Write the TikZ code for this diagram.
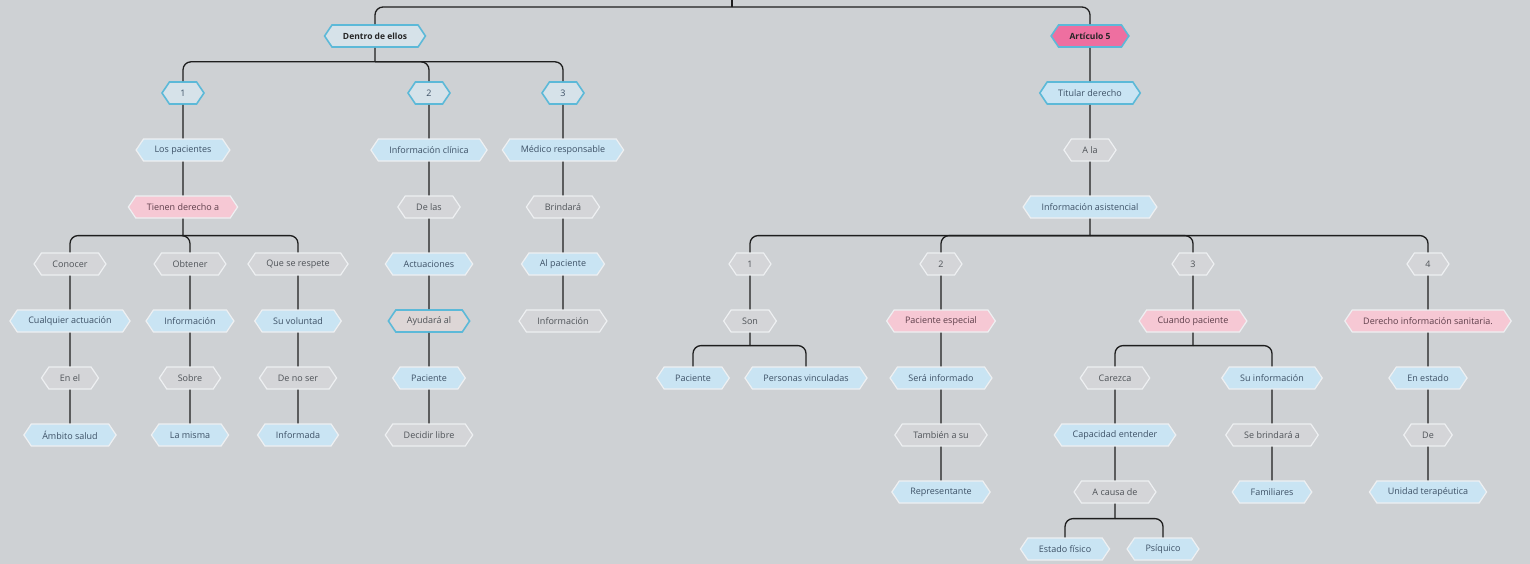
\documentclass[tikz,border=0pt]{standalone}
\usepackage{fontspec}
\setmainfont{Open Sans}
\usetikzlibrary{shapes.symbols}
\definecolor{bggray}{HTML}{CED1D4}
\definecolor{hexblue}{HTML}{C9E4F3}
\definecolor{hexpink}{HTML}{F6C8D4}
\definecolor{hexgray}{HTML}{D4D5D8}
\definecolor{hexsel}{HTML}{D6E2E9}
\definecolor{hexpeach}{HTML}{DDD6D6}
\definecolor{hotpink}{HTML}{EE6FA0}
\definecolor{selcyan}{HTML}{5CB9D8}
\definecolor{hexedge}{HTML}{EEF0F2}
\definecolor{txtblue}{HTML}{3D5166}
\definecolor{txtgray}{HTML}{4E5257}
\definecolor{txtpink}{HTML}{5E3E4A}
\definecolor{linkblack}{HTML}{1E1E1E}

\begin{document}
\begin{tikzpicture}[x=1pt, y=-1pt, node distance=57pt]
    \tikzstyle{hex} = [signal, signal to=west and east, signal pointer angle=112,
                       draw=hexedge, line width=1.2pt, minimum height=22pt,
                       inner xsep=11pt, inner ysep=5.5pt, font=\fontsize{9}{11}\selectfont]
    \tikzstyle{bluehex} = [hex, fill=hexblue, text=txtblue]
    \tikzstyle{pinkhex} = [hex, fill=hexpink, text=txtpink]
    \tikzstyle{grayhex} = [hex, fill=hexgray, text=txtgray]
    \tikzstyle{selhex} = [hex, draw=selcyan, line width=1.6pt, fill=hexsel, text=txtblue]
    \tikzstyle{headhex} = [selhex, text=black!85, font=\fontsize{8.5}{11}\selectfont\bfseries]
    \tikzstyle{link} = [draw=linkblack, line width=1.3pt]
    \tikzstyle{bus} = [link, rounded corners=8pt]
  \useasboundingbox (0,0) rectangle (1530,564);
  \fill[bggray] (0,0) rectangle (1530,564);
  % left side
  \node[headhex](dentro) at (375,36){Dentro de ellos};
  \node[selhex, below of=dentro, xshift=-192pt](one){1};
  \node[selhex, below of=dentro, xshift=54pt](two){2};
  \node[selhex, below of=dentro, xshift=188pt](three){3};
  \node[bluehex, below of=one](pacientes){Los pacientes};
  \node[pinkhex, below of=pacientes](tienen){Tienen derecho a};
  \node[grayhex, below of=tienen, xshift=-113pt](conocer){Conocer};
  \node[grayhex, below of=tienen, xshift=7pt](obtener){Obtener};
  \node[grayhex, below of=tienen, xshift=115pt](respete){Que se respete};
  \node[bluehex, below of=conocer](cualquier){Cualquier actuación};
  \node[grayhex, below of=cualquier](enel){En el};
  \node[bluehex, below of=enel](ambito){Ámbito salud};
  \node[bluehex, below of=obtener](info){Información};
  \node[grayhex, below of=info](sobre){Sobre};
  \node[bluehex, below of=sobre](misma){La misma};
  \node[bluehex, below of=respete](voluntad){Su voluntad};
  \node[grayhex, below of=voluntad](denoser){De no ser};
  \node[bluehex, below of=denoser](informada){Informada};
  \node[bluehex, below of=two](clinica){Información clínica};
  \node[grayhex, below of=clinica](delas){De las};
  \node[bluehex, below of=delas](actuaciones){Actuaciones};
  \node[selhex, fill=hexpeach, text=txtgray, below of=actuaciones](ayudara){Ayudará al};
  \node[bluehex, below of=ayudara](paciente){Paciente};
  \node[grayhex, below of=paciente](decidir){Decidir libre};
  \node[bluehex, below of=three](medico){Médico responsable};
  \node[grayhex, below of=medico](brindara){Brindará};
  \node[bluehex, below of=brindara](alpaciente){Al paciente};
  \node[grayhex, below of=alpaciente](informacion){Información};
  % right side
  \node[headhex, fill=hotpink](art5) at (1090,36){Artículo 5};
  \node[selhex, fill=hexblue, below of=art5](titular){Titular derecho};
  \node[grayhex, below of=titular](ala){A la};
  \node[bluehex, below of=ala](asistencial){Información asistencial};
  \node[grayhex, below of=asistencial, xshift=-340pt](uno){1};
  \node[grayhex, below of=asistencial, xshift=-149pt](dos){2};
  \node[grayhex, below of=asistencial, xshift=103pt](tres){3};
  \node[grayhex, below of=asistencial, xshift=338pt](cuatro){4};
  \node[grayhex, below of=uno](son){Son};
  \node[bluehex, below of=son, xshift=-57pt](pacuno){Paciente};
  \node[bluehex, below of=son, xshift=56pt](personas){Personas vinculadas};
  \node[pinkhex, below of=dos](especial){Paciente especial};
  \node[bluehex, below of=especial](sera){Será informado};
  \node[grayhex, below of=sera](tambien){También a su};
  \node[bluehex, below of=tambien](represent){Representante};
  \node[pinkhex, below of=tres](cuando){Cuando paciente};
  \node[grayhex, below of=cuando, xshift=-78pt](carezca){Carezca};
  \node[bluehex, below of=cuando, xshift=79pt](suinfo){Su información};
  \node[bluehex, below of=carezca](capacidad){Capacidad entender};
  \node[grayhex, below of=capacidad](acausa){A causa de};
  \node[bluehex, below of=acausa, xshift=-50pt](fisico){Estado físico};
  \node[bluehex, below of=acausa, xshift=48pt](psiquico){Psíquico};
  \node[grayhex, below of=suinfo](sebrindara){Se brindará a};
  \node[bluehex, below of=sebrindara](familiares){Familiares};
  \node[pinkhex, below of=cuatro](derecho){Derecho información sanitaria.};
  \node[bluehex, below of=derecho](enestado){En estado};
  \node[grayhex, below of=enestado](de){De};
  \node[bluehex, below of=de](unidad){Unidad terapéutica};
  % buses
  \coordinate (root) at (732,0);
  \coordinate (rootbus) at (732,7);
  \coordinate (dentrobus) at ([yshift=-14pt]dentro.south);
  \coordinate (tienenbus) at ([yshift=-17pt]tienen.south);
  \coordinate (asisbus) at ([yshift=-17pt]asistencial.south);
  \coordinate (sonbus) at ([yshift=-13pt]son.south);
  \coordinate (cuandobus) at ([yshift=-13pt]cuando.south);
  \coordinate (acausabus) at ([yshift=-15pt]acausa.south);
  \draw[link] (root) -- (rootbus);
  \draw[bus] (rootbus) -| (dentro);
  \draw[bus] (rootbus) -| (art5);
  \draw[link] (dentro) -- (dentrobus);
  \draw[bus] (dentrobus) -| (one);
  \draw[bus] (dentrobus) -| (two);
  \draw[bus] (dentrobus) -| (three);
  \draw[link] (tienen) -- (tienenbus);
  \draw[bus] (tienenbus) -| (conocer);
  \draw[bus] (tienenbus) -| (obtener);
  \draw[bus] (tienenbus) -| (respete);
  \draw[link] (asistencial) -- (asisbus);
  \draw[bus] (asisbus) -| (uno);
  \draw[bus] (asisbus) -| (dos);
  \draw[bus] (asisbus) -| (tres);
  \draw[bus] (asisbus) -| (cuatro);
  \draw[link] (son) -- (sonbus);
  \draw[bus] (sonbus) -| (pacuno);
  \draw[bus] (sonbus) -| (personas);
  \draw[link] (cuando) -- (cuandobus);
  \draw[bus] (cuandobus) -| (carezca);
  \draw[bus] (cuandobus) -| (suinfo);
  \draw[link] (acausa) -- (acausabus);
  \draw[bus] (acausabus) -| (fisico);
  \draw[bus] (acausabus) -| (psiquico);
  % chains
  \draw[link] (one) -- (pacientes);
  \draw[link] (pacientes) -- (tienen);
  \draw[link] (conocer) -- (cualquier);
  \draw[link] (cualquier) -- (enel);
  \draw[link] (enel) -- (ambito);
  \draw[link] (obtener) -- (info);
  \draw[link] (info) -- (sobre);
  \draw[link] (sobre) -- (misma);
  \draw[link] (respete) -- (voluntad);
  \draw[link] (voluntad) -- (denoser);
  \draw[link] (denoser) -- (informada);
  \draw[link] (two) -- (clinica);
  \draw[link] (clinica) -- (delas);
  \draw[link] (delas) -- (actuaciones);
  \draw[link] (actuaciones) -- (ayudara);
  \draw[link] (ayudara) -- (paciente);
  \draw[link] (paciente) -- (decidir);
  \draw[link] (three) -- (medico);
  \draw[link] (medico) -- (brindara);
  \draw[link] (brindara) -- (alpaciente);
  \draw[link] (alpaciente) -- (informacion);
  \draw[link] (art5) -- (titular);
  \draw[link] (titular) -- (ala);
  \draw[link] (ala) -- (asistencial);
  \draw[link] (uno) -- (son);
  \draw[link] (dos) -- (especial);
  \draw[link] (especial) -- (sera);
  \draw[link] (sera) -- (tambien);
  \draw[link] (tambien) -- (represent);
  \draw[link] (tres) -- (cuando);
  \draw[link] (carezca) -- (capacidad);
  \draw[link] (capacidad) -- (acausa);
  \draw[link] (suinfo) -- (sebrindara);
  \draw[link] (sebrindara) -- (familiares);
  \draw[link] (cuatro) -- (derecho);
  \draw[link] (derecho) -- (enestado);
  \draw[link] (enestado) -- (de);
  \draw[link] (de) -- (unidad);
  \end{tikzpicture}
\end{document}
